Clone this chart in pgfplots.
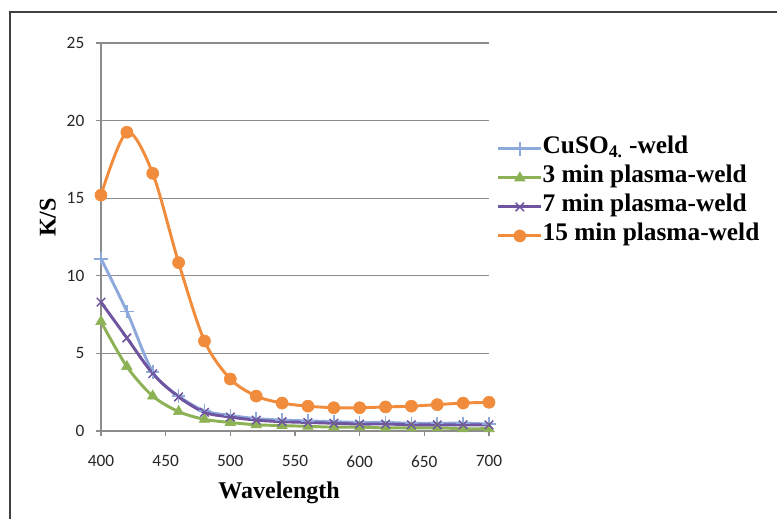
\documentclass[border=0pt]{standalone}
\usepackage{pgfplots}
\pgfplotsset{compat=1.18}
\usepackage{fontspec}
\setmainfont{Liberation Serif}
\newfontfamily\carlito{Carlito}
\definecolor{cblue}{HTML}{8EA9DB}
\definecolor{cgreen}{HTML}{8DB255}
\definecolor{cpurple}{HTML}{6F55A0}
\definecolor{corange}{HTML}{F08C3C}
\definecolor{cgrid}{HTML}{8C8C8C}
\begin{document}
\begin{tikzpicture}
\useasboundingbox (-75.75pt,-66pt) rectangle (507pt,323.25pt);
\draw[line width=1pt, black!75] (-68.25pt,-66pt) -- (-68.25pt,314.25pt) -- (507pt,314.25pt);
\begin{axis}[
  at={(0pt,0pt)}, anchor=origin,
  scale only axis, width=291pt, height=291pt,
  xmin=400, xmax=700, ymin=0, ymax=25,
  xtick={400,450,...,700}, ytick={0,5,...,25},
  axis x line=bottom, axis y line=left,
  axis line style={-, cgrid, line width=0.8pt},
  tick style={cgrid, line width=0.8pt},
  tick align=outside, major tick length=4pt,
  ymajorgrids, grid style={cgrid, line width=0.8pt},
  /pgf/number format/assume math mode=true,
  /pgf/number format/1000 sep={},
  ticklabel style={font=\carlito\fontsize{13}{15}\selectfont, text=black!85},
  xticklabel style={yshift=-11pt},
  yticklabel style={xshift=-5pt},
  xlabel={\textbf{Wavelength}}, ylabel={\textbf{K/S}},
  xlabel style={font=\fontsize{18}{20}\selectfont, at={(axis description cs:0.459,0)}, anchor=center, yshift=-46pt},
  ylabel style={font=\fontsize{18}{20}\selectfont, at={(axis description cs:-0.137,0.55)}, anchor=center},
  legend style={at={(axis description cs:1.02,0.765)}, anchor=north west, draw=none, fill=none,
    font=\bfseries\fontsize{19}{22}\selectfont, row sep=0pt, inner sep=0pt,
    nodes={text height=14.5pt, text depth=7.25pt, inner sep=0pt, outer sep=0pt},
    legend cell align=left},
  legend image code/.code={\draw[mark repeat=2, mark phase=2, #1] plot coordinates {(0pt,0pt) (16pt,0pt) (32pt,0pt)};},
  every axis plot/.append style={line width=2.2pt, smooth},
]
\addplot[cblue, mark=+, mark size=5pt, mark options={line width=1.2pt}] coordinates {
(400,11.1)(420,7.7)(440,3.8)(460,2.25)(480,1.3)(500,1.0)(520,0.8)(540,0.7)(560,0.65)(580,0.6)(600,0.55)(620,0.55)(640,0.5)(660,0.5)(680,0.5)(700,0.45)};
\addlegendentry{CuSO\textsubscript{4.} -weld}
\addplot[cgreen, mark=triangle*, mark size=4.5pt, mark options={line width=0.5pt}] coordinates {
(400,7.05)(420,4.15)(440,2.25)(460,1.25)(480,0.75)(500,0.55)(520,0.4)(540,0.35)(560,0.3)(580,0.25)(600,0.25)(620,0.2)(640,0.2)(660,0.2)(680,0.15)(700,0.15)};
\addlegendentry{3 min plasma-weld}
\addplot[cpurple, mark=x, mark size=4.5pt, mark options={line width=1.1pt}] coordinates {
(400,8.3)(420,6.0)(440,3.7)(460,2.2)(480,1.2)(500,0.9)(520,0.7)(540,0.6)(560,0.55)(580,0.5)(600,0.45)(620,0.45)(640,0.4)(660,0.4)(680,0.4)(700,0.4)};
\addlegendentry{7 min plasma-weld}
\addplot[corange, mark=*, mark size=4.5pt, mark options={line width=0.5pt}] coordinates {
(400,15.2)(420,19.25)(440,16.6)(460,10.85)(480,5.8)(500,3.35)(520,2.25)(540,1.8)(560,1.6)(580,1.5)(600,1.5)(620,1.55)(640,1.6)(660,1.7)(680,1.8)(700,1.85)};
\addlegendentry{15 min plasma-weld}
\end{axis}
\end{tikzpicture}
\end{document}
